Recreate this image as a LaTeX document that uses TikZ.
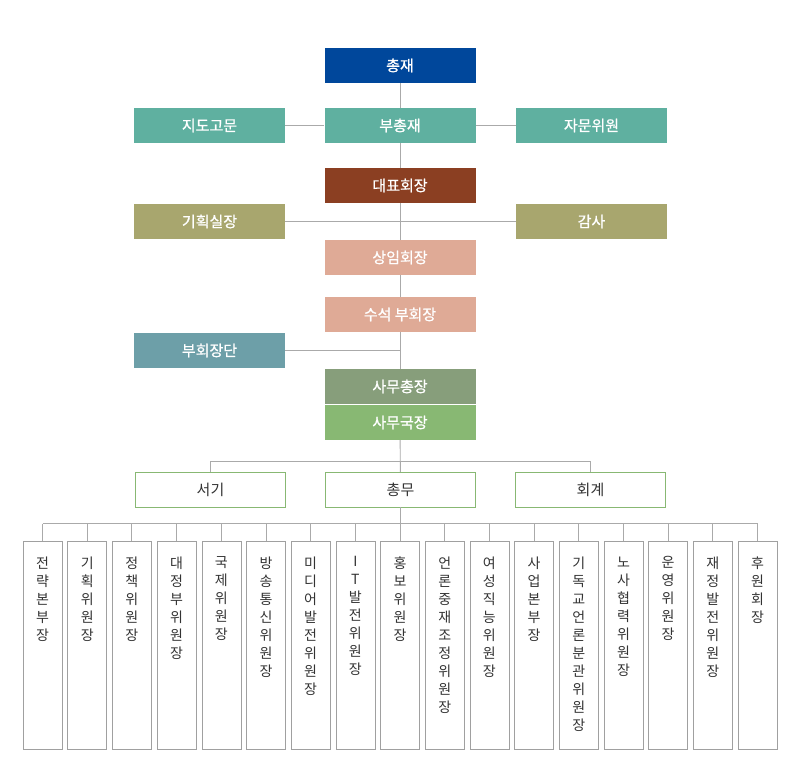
\documentclass[tikz,border=0pt]{standalone}
\usepackage{fontspec}
\setmainfont{Noto Sans CJK KR}
\newfontfamily\rankfont{Noto Sans CJK KR}[FakeBold=0.8]
\usepackage{xcolor}
\usepackage{tikz}
\usetikzlibrary{calc}
\definecolor{navy}{HTML}{00479B}
\definecolor{teal}{HTML}{5FB0A0}
\definecolor{brick}{HTML}{8B3F22}
\definecolor{olive}{HTML}{A8A66E}
\definecolor{salmon}{HTML}{DFAA96}
\definecolor{steel}{HTML}{6D9FA8}
\definecolor{sage}{HTML}{879E7B}
\definecolor{leaf}{HTML}{88B873}
\definecolor{linegrey}{HTML}{AAAAAA}
\definecolor{boxgrey}{HTML}{A0A0A0}
\definecolor{textgrey}{HTML}{333333}
\tikzstyle{rankbox} = [rectangle, minimum width=151pt, minimum height=35pt,
inner sep=0pt, text=white, font=\rankfont\fontsize{15}{18}\selectfont]
\tikzstyle{deskbox} = [rectangle, draw=leaf, fill=white, minimum width=150pt,
minimum height=35pt, inner sep=0pt, text=textgrey, font=\fontsize{15}{18}\selectfont]
\tikzstyle{postbox} = [rectangle, draw=boxgrey, fill=white, minimum width=39pt,
minimum height=208pt, inner sep=0pt]
\tikzstyle{posttext} = [align=center, anchor=north, inner sep=0pt, text=textgrey,
font=\fontsize{14}{18}\selectfont]
\tikzstyle{link} = [draw=linegrey, line width=0.9pt]

\begin{document}
\begin{tikzpicture}[x=1pt, y=-1pt]
        \useasboundingbox (0,0) rectangle (800,775);
        % top ranks
        \node [rankbox, fill=navy] (chongjae) at (400,65.5) {총재};
        \node [rankbox, fill=teal] (buchong) at (400,125.5) {부총재};
        \node [rankbox, fill=teal] (jido) at (209.5,125.5) {지도고문};
        \node [rankbox, fill=teal] (jamun) at (591.5,125.5) {자문위원};
        \node [rankbox, fill=brick] (daepyo) at (400,185.5) {대표회장};
        \node [rankbox, fill=olive] (gihoek) at (209.5,221.5) {기획실장};
        \node [rankbox, fill=olive] (gamsa) at (591.5,221.5) {감사};
        \node [rankbox, fill=salmon] (sangim) at (400,257.5) {상임회장};
        \node [rankbox, fill=salmon] (suseok) at (400,314.5) {수석 부회장};
        \node [rankbox, fill=steel] (buhoe) at (209.5,350.5) {부회장단};
        \node [rankbox, fill=sage] (samuchong) at (400,386.5) {사무총장};
        \node [rankbox, fill=leaf] (samuguk) at (400,422.5) {사무국장};
        \draw [link] (chongjae) -- (buchong);
        \draw [link] (jido) -- (buchong) -- (jamun);
        \draw [link] (buchong) -- (daepyo);
        \draw [link] (daepyo) -- (sangim);
        \draw [link] (gihoek) -- (gamsa);
        \draw [link] (sangim) -- (suseok);
        \draw [link] (suseok) -- (samuchong);
        \draw [link] (buhoe.east) -- (buhoe.east -| suseok.south);
        % desks
        \node [deskbox] (seogi) at (210.5,489.5) {서기};
        \node [deskbox] (chongmu) at (400.5,489.5) {총무};
        \node [deskbox] (hoegye) at (590.5,489.5) {회계};
        \coordinate (deskbus) at (400,461.5);
        \draw [link] (samuguk) -- (chongmu);
        \draw [link] (seogi.north) -- (seogi.north |- deskbus) -- (hoegye.north |- deskbus) -- (hoegye.north);
        % committees
        \coordinate (postbus) at (400,523.5);
        \foreach \i/\t in {0/{전\\략\\본\\부\\장}, 1/{기\\획\\위\\원\\장}, 2/{정\\책\\위\\원\\장},
            3/{대\\정\\부\\위\\원\\장}, 4/{국\\제\\위\\원\\장}, 5/{방\\송\\통\\신\\위\\원\\장},
            6/{미\\디\\어\\발\\전\\위\\원\\장}, 7/{I\\T\\발\\전\\위\\원\\장}, 8/{홍\\보\\위\\원\\장},
            9/{언\\론\\중\\재\\조\\정\\위\\원\\장}, 10/{여\\성\\직\\능\\위\\원\\장}, 11/{사\\업\\본\\부\\장},
            12/{기\\독\\교\\언\\론\\분\\관\\위\\원\\장}, 13/{노\\사\\협\\력\\위\\원\\장}, 14/{운\\영\\위\\원\\장},
            15/{재\\정\\발\\전\\위\\원\\장}, 16/{후\\원\\회\\장}}{
            \node [postbox] (post\i) at (42.5+44.69*\i,645.5) {};
            \node [posttext] (posttext\i) at ($(post\i.north)+(0,15)$) {\t};
            \draw [link] (post\i.north) -- (post\i.north |- postbus);
        }
        \draw [link] (chongmu) -- (chongmu.south |- postbus);
        \draw [link] (post0.north |- postbus) -- (post16.north |- postbus);
    \end{tikzpicture}
\end{document}
